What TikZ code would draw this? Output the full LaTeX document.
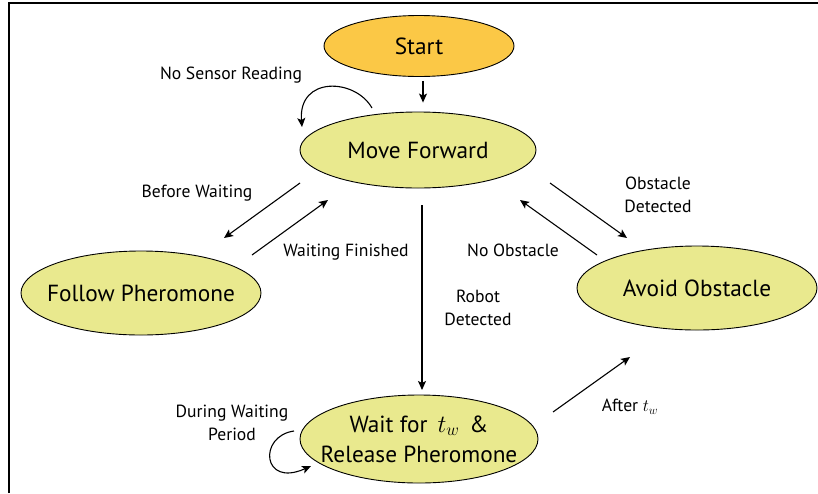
\documentclass[tikz,border=0pt]{standalone}
\usepackage{fontspec}
\setmainfont{PT Sans}
\usetikzlibrary{shapes.geometric,arrows.meta}
\definecolor{startfill}{RGB}{251,200,70}
\definecolor{statefill}{RGB}{233,233,142}
\tikzset{
  state/.style={ellipse, draw=black, line width=0.9pt, fill=statefill, inner sep=-45pt, font=\fontsize{23.3}{30}\selectfont, align=center},
  lbl/.style={font=\fontsize{17.6}{23}\selectfont, align=center, inner sep=0pt},
  arr/.style={line width=1.1pt, -{Stealth[length=9pt,width=8pt,inset=2pt]}}
}
\begin{document}
\begin{tikzpicture}[x=1pt,y=-1pt]
\useasboundingbox (0,0) rectangle (818,493);
\draw[line width=2.5pt] (9,493) -- (9,3) -- (818,3);

\node[state, fill=startfill, minimum width=190pt, minimum height=61pt] (start) at (419,46) {Start};
\node[state, minimum width=236pt, minimum height=76pt] (mf) at (418,150) {Move Forward};
\node[state, minimum width=240pt, minimum height=84pt] (fp) at (141,293) {Follow Pheromone};
\node[state, minimum width=240pt, minimum height=84pt] (ao) at (697,288) {Avoid Obstacle};
\node[state, minimum width=238pt, minimum height=88pt] (wf) at (419,439) {Wait for \,$t_w$\, \&\\Release Pheromone};

\node[lbl] (l1) at (231,75) {No Sensor Reading};
\node[lbl] (l2) at (197,193) {Before Waiting};
\node[lbl] (l3) at (346,252) {Waiting Finished};
\node[lbl] (l4) at (478,308) {Robot\\Detected};
\node[lbl] (l5) at (658,195) {Obstacle\\Detected};
\node[lbl] (l6) at (513,250) {No Obstacle};
\node[lbl] (l7) at (630,407) {After $t_w$};
\node[lbl] (l8) at (232,423) {During Waiting\\Period};

% start -> move forward
\draw[arr] ([xshift=4pt,yshift=-4pt]start.south) -- ([xshift=5pt,yshift=9pt]mf.north);
% self loop on move forward
\coordinate (mfa) at (372,108);
\coordinate (mfb) at (302,127);
\draw[arr] (mfa) .. controls (355,78) and (298,76) .. (mfb);
% before waiting
\coordinate (bw1) at (300,183);
\coordinate (bw2) at (224,238);
\draw[arr] (bw1) -- (bw2);
% waiting finished
\coordinate (wfa) at (252,255);
\coordinate (wfb) at (328,200);
\draw[arr] (wfa) -- (wfb);
% robot detected
\coordinate (rd1) at (422,205);
\coordinate (rd2) at (422,390);
\draw[arr] (rd1) -- (rd2);
% obstacle detected
\coordinate (od1) at (550,183);
\coordinate (od2) at (627,238);
\draw[arr] (od1) -- (od2);
% no obstacle
\coordinate (no1) at (597,255);
\coordinate (no2) at (520,200);
\draw[arr] (no1) -- (no2);
% after t_w
\coordinate (at1) at (553,412);
\coordinate (at2) at (630,357);
\draw[arr] (at1) -- (at2);
% during waiting loop
\coordinate (dw1) at (294,431);
\coordinate (dw2) at (311,466);
\draw[arr] (dw1) .. controls (258,436) and (262,488) .. (dw2);
\end{tikzpicture}
\end{document}
